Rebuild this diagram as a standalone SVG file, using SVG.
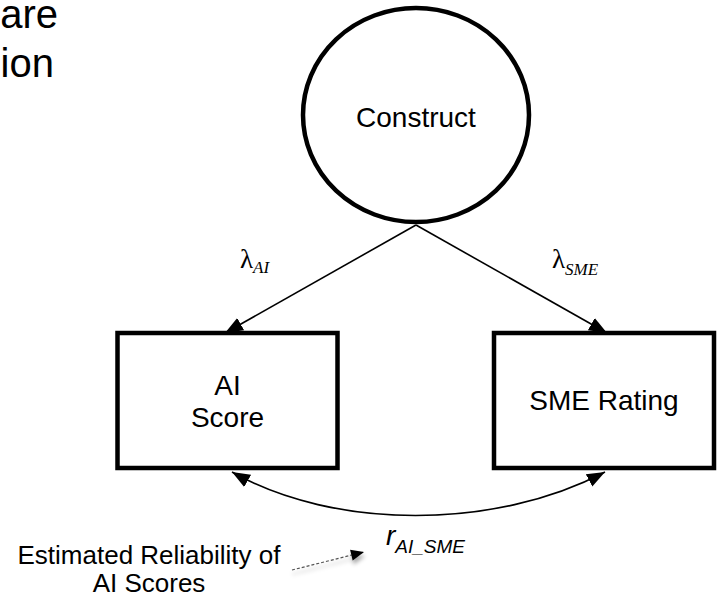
<svg xmlns="http://www.w3.org/2000/svg" width="718" height="599" viewBox="0 0 718 599">
  <style>
    .node { fill: #ffffff; stroke: #000000; stroke-width: 4.5; }
    .lbl { font-family: "Liberation Sans", Arial, sans-serif; font-size: 28px; fill: #000000; text-anchor: middle; }
    .title { font-family: "Liberation Sans", Arial, sans-serif; font-size: 40px; fill: #000000; text-anchor: end; }
    .note { font-family: "Liberation Sans", Arial, sans-serif; font-size: 26px; fill: #000000; text-anchor: middle; }
    .path { fill: none; stroke: #000000; stroke-width: 1.6; }
    .greek { font-family: "Liberation Serif", "DejaVu Serif", serif; font-size: 27px; fill: #000000; }
    .sub { font-family: "Liberation Serif", "DejaVu Serif", serif; font-style: italic; font-size: 17px; }
    .rlbl { font-family: "Liberation Sans", Arial, sans-serif; font-style: italic; fill: #000000; }
  </style>
  <defs>
    <marker id="arrow" markerUnits="userSpaceOnUse" markerWidth="20" markerHeight="16" viewBox="-18 -8 20 16" refX="0" refY="0" orient="auto-start-reverse">
      <path d="M0,0 L-18,-7 L-18,7 Z" fill="#000000"/>
    </marker>
    <marker id="arrowSmall" markerUnits="userSpaceOnUse" markerWidth="16" markerHeight="12" viewBox="-14 -6 16 12" refX="0" refY="0" orient="auto">
      <path d="M0,0 L-13,-5.5 L-13,5.5 Z" fill="#000000"/>
    </marker>
    <filter id="soft" x="-20%" y="-100%" width="140%" height="400%">
      <feDropShadow dx="1" dy="4" stdDeviation="2" flood-color="#000000" flood-opacity="0.35"/>
    </filter>
  </defs>

  <!-- heading lines at the top-left edge -->
  <text class="title" x="58" y="28">are</text>
  <text class="title" x="54" y="77">ion</text>

  <!-- connectors -->
  <g id="connectors">
    <line class="path" x1="416" y1="225" x2="225" y2="333" marker-end="url(#arrow)"/>
    <line class="path" x1="416" y1="225" x2="607" y2="333" marker-end="url(#arrow)"/>
    <path class="path" d="M232,472 C334,530 495,530 605,472" marker-start="url(#arrow)" marker-end="url(#arrow)"/>
    <line x1="292" y1="570" x2="364" y2="552" stroke="#555555" stroke-width="1.2" stroke-dasharray="3 2" filter="url(#soft)" marker-end="url(#arrowSmall)"/>
  </g>

  <!-- latent construct -->
  <g id="construct">
    <ellipse class="node" cx="416" cy="115" rx="113" ry="107"/>
    <text class="lbl" x="416" y="127">Construct</text>
  </g>

  <!-- observed indicators -->
  <g id="ai-score">
    <rect class="node" x="117.5" y="333" width="220" height="135"/>
    <text class="lbl" x="227.5" y="395">AI</text>
    <text class="lbl" x="227.5" y="427">Score</text>
  </g>
  <g id="sme-rating">
    <rect class="node" x="494" y="333" width="220" height="135"/>
    <text class="lbl" x="604" y="410">SME Rating</text>
  </g>

  <!-- loading labels -->
  <g id="lambda-ai">
    <text class="greek" x="240" y="268">λ<tspan class="sub" dy="5">AI</tspan></text>
  </g>
  <g id="lambda-sme">
    <text class="greek" x="552" y="268">λ<tspan class="sub" dy="7">SME</tspan></text>
  </g>

  <!-- correlation label -->
  <g id="r-label">
    <text class="rlbl" x="386" y="545" font-size="28">r<tspan font-size="19" dy="8">AI_SME</tspan></text>
  </g>

  <!-- annotation -->
  <g id="note">
    <text class="note" x="149" y="564">Estimated Reliability of</text>
    <text class="note" x="149" y="592">AI Scores</text>
  </g>
</svg>
